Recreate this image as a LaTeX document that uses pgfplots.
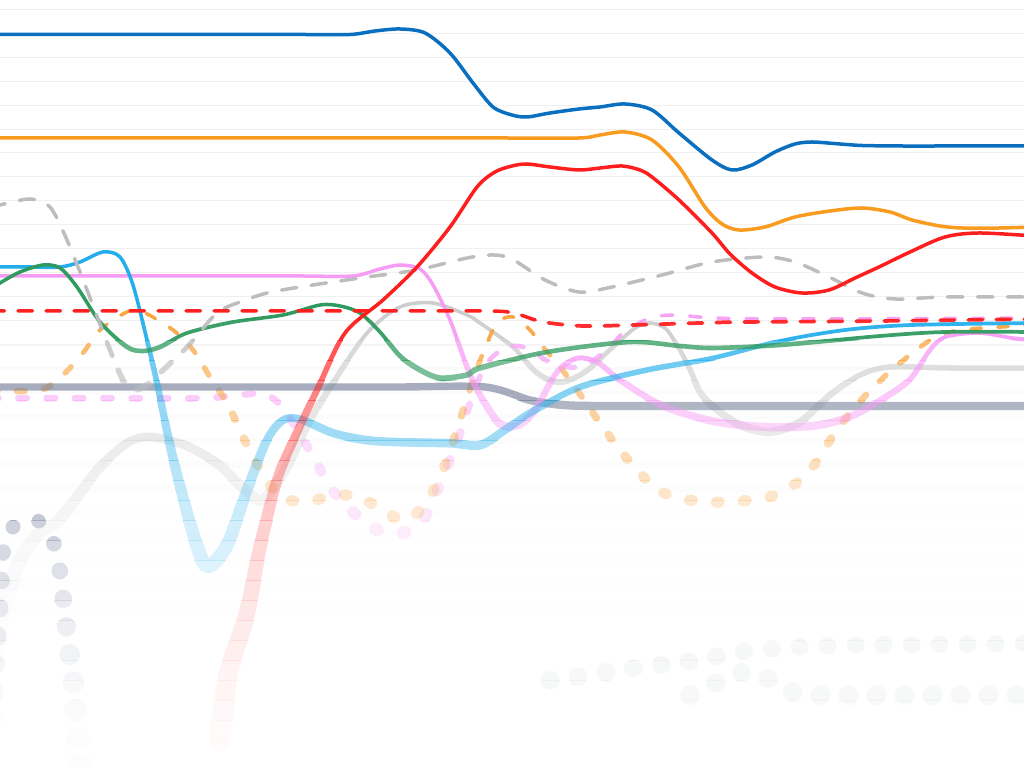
\documentclass[border=0pt]{standalone}
\usepackage{pgfplots}
\pgfplotsset{compat=1.18}
\definecolor{cBlue}{HTML}{0B6FC0}
\definecolor{cOrange}{HTML}{F99B1E}
\definecolor{cRed}{HTML}{FF1E1E}
\definecolor{cGrayD}{HTML}{BDBDBD}
\definecolor{cCyan}{HTML}{23AEEB}
\definecolor{cGreen}{HTML}{2F9A5F}
\definecolor{cPink}{HTML}{F79CF5}
\definecolor{cRedD}{HTML}{FF2020}
\definecolor{cOrangeD}{HTML}{F9A641}
\definecolor{cPinkD}{HTML}{F7A3F5}
\definecolor{cGrayS}{HTML}{CDCDCD}
\definecolor{cSlate}{HTML}{6E7894}
\definecolor{cSlateD}{HTML}{5E6A8C}
\definecolor{cFaint}{HTML}{6F8580}
\definecolor{cGridMinor}{HTML}{F0F0F0}
\definecolor{cGridMajor}{HTML}{E4E4E4}

% #1 = blur (px), #2 = extra fade factor
\newcommand\setblur[2]{%
 \pgfmathsetlengthmacro\wA{(3.5+#1)*0.28453pt}%
 \pgfmathsetmacro\oA{3.5/(3.5+#1)*#2}%
 \pgfmathsetmacro\oGS{3.5/(3.5+#1)*#2*#2}%
 \pgfmathsetlengthmacro\wS{(4.5+#1)*0.28453pt}%
 \pgfmathsetmacro\oS{4.5/(4.5+#1)*#2}%
 \pgfmathsetlengthmacro\wD{(5.5+#1)*0.28453pt}%
 \pgfmathsetmacro\oD{min(1,1.3*5.5/(5.5+#1))*#2^1.5}%
 \pgfmathsetlengthmacro\wF{(3+#1)*0.28453pt}%
 \pgfmathsetmacro\oF{0.35*3/(3+#1)}%
 \pgfmathsetlengthmacro\wG{(1+#1)*0.28453pt}%
 \pgfmathsetmacro\oG{1/(1+#1)*#2}%
 \pgfmathsetlengthmacro\gOn{max(15.5-#1,0.3)*0.28453pt}%
 \pgfmathsetlengthmacro\gOff{(30-max(15.5-#1,0.3))*0.28453pt}%
 \pgfmathsetlengthmacro\rOn{max(14.5-#1,0.3)*0.28453pt}%
 \pgfmathsetlengthmacro\rOff{(28-max(14.5-#1,0.3))*0.28453pt}%
 \pgfmathsetlengthmacro\oOn{max(10.5-#1,0.3)*0.28453pt}%
 \pgfmathsetlengthmacro\oOff{(27-max(10.5-#1,0.3))*0.28453pt}%
 \pgfmathsetlengthmacro\pOn{max(11.5-#1,0.3)*0.28453pt}%
 \pgfmathsetlengthmacro\pOff{(28.3-max(11.5-#1,0.3))*0.28453pt}%
 \pgfmathsetlengthmacro\dOn{0.5*0.28453pt}%
 \pgfmathsetlengthmacro\dOff{27.5*0.28453pt}%
}

\pgfplotsset{
 base/.style={
  scale only axis, width=10.24cm, height=7.68cm,
  xmin=0, xmax=1024, ymin=0, ymax=768, y dir=reverse,
  axis line style={draw=none}, xtick=\empty,
  ytick={9.3,33.25,...,657}, yticklabels={},
  major tick length=0pt, ymajorgrids,
  major grid style={color=cGridMinor, line width=\wG, opacity=\oG},
  extra y ticks={105.1,224.85,344.6,464.35,584.1}, extra y tick labels={},
  extra y tick style={grid style={color=cGridMajor, line width=\wG, opacity=\oG}},
  every axis plot/.append style={smooth, tension=0.5, line cap=round, line join=round, no markers},
 }
}

\newcommand\allplots{%
% faint bottom dotted
\addplot[color=cFaint, line width=\wF, draw opacity=\oF, dash pattern=on \dOn off \dOff] coordinates {
(550,680)(590,675)(617,670)(645,667)(673,663)(700,660)(730,653)(757,650)(793,647)(850,645)(950,644)(1034,643)};
\addplot[color=cFaint, line width=\wF, draw opacity=\oF, dash pattern=on \dOn off \dOff] coordinates {
(690,695)(717,682)(743,672)(773,680)(793,692)(823,695)(873,695)(950,695)(1034,695)};
% slate dotted
\addplot[color=cSlateD, line width=\wD, draw opacity=\oD, dash pattern=on \dOn off \dOff] coordinates {
(-10,720)(0,600)(5,540)(20,522)(37,520)(50,533)(58,560)(63,597)(68,640)(74,690)(80,768)};
% light gray solid
\addplot[color=cGrayS, line width=\wA, draw opacity=\oGS] coordinates {
(-15,700)(0,620)(20,560)(42,530)(60,519)(100,467)(127,443)(143,437)(160,438)(187,446)(217,463)(240,485)(262,500)(285,470)(310,420)(333,383)(367,333)(400,307)(433,303)(467,315)(480,323)(513,347)(537,373)(560,382)(585,372)(613,347)(635,328)(650,323)(667,330)(687,363)(700,392)(715,408)(740,425)(770,432)(800,422)(830,395)(860,375)(890,367)(950,368)(1034,368)};
% pink dashed
\addplot[color=cPinkD, line width=\wA, draw opacity=\oA, dash pattern=on \pOn off \pOff] coordinates {
(-10,398)(100,398)(200,398)(240,395)(265,394)(283,408)(310,451)(333,491)(367,524)(393,534)(420,524)(440,484)(460,434)(473,394)(487,363)(507,347)(527,348)(550,362)(580,367)(607,350)(623,333)(650,318)(677,315)(713,318)(800,319)(1034,318)};
% orange dashed
\addplot[color=cOrangeD, line width=\wA, draw opacity=\oA, dash pattern=on \oOn off \oOff] coordinates {
(-10,392)(0,391)(40,390)(60,378)(83,353)(100,330)(127,312)(143,312)(173,330)(193,350)(210,377)(227,403)(240,430)(253,457)(267,480)(280,497)(307,502)(333,495)(360,497)(385,512)(405,520)(425,505)(443,470)(460,420)(473,380)(483,353)(497,323)(513,317)(530,330)(543,347)(560,367)(577,390)(600,423)(620,450)(640,473)(659,491)(690,500)(712,502)(740,501)(769,497)(795,484)(815,464)(832,437)(849,414)(865,396)(895,367)(935,337)(962,330)(1000,327)(1034,325)};
% slate
\addplot[color=cSlate, line width=\wS, draw opacity=\oS] coordinates {
(-10,387)(100,387)(200,387)(300,387)(400,387)(485,387)(530,400)(563,405)(600,406)(700,406)(850,406)(1034,406)};
% pink solid
\addplot[color=cPink, line width=\wA, draw opacity=\oA] coordinates {
(-10,276)(100,276)(200,276)(300,276)(353,276)(380,269)(400,265)(420,269)(433,285)(450,320)(467,367)(480,395)(500,424)(518,425)(535,410)(557,372)(577,358)(597,362)(620,380)(663,406)(713,421)(763,427)(812,426)(840,420)(862,411)(895,391)(912,377)(930,350)(945,337)(979,333)(1012,338)(1034,340)};
% cyan
\addplot[color=cCyan, line width=\wA, draw opacity=\oA] coordinates {
(-10,267)(30,267)(60,267)(80,262)(103,252)(120,257)(133,285)(147,340)(157,383)(173,458)(193,533)(207,566)(227,545)(247,490)(267,440)(283,420)(300,419)(333,433)(367,440)(400,442)(450,443)(480,445)(505,430)(530,413)(580,387)(647,370)(713,358)(780,341)(845,330)(912,325)(1034,323)};
% green
\addplot[color=cGreen, line width=\wA, draw opacity=\oA] coordinates {
(-10,290)(0,283)(20,272)(43,265)(60,268)(77,287)(100,322)(127,347)(143,351)(160,347)(187,333)(233,322)(283,315)(320,305)(340,306)(360,313)(380,332)(400,356)(420,370)(440,378)(467,375)(480,368)(547,352)(630,342)(680,346)(713,348)(780,345)(880,336)(945,332)(1034,332)};
% gray dashed
\addplot[color=cGrayD, line width=\wA, draw opacity=\oA, dash pattern=on \gOn off \gOff] coordinates {
(-10,207)(0,205)(30,199)(50,207)(67,240)(87,290)(110,350)(123,380)(133,390)(147,385)(160,373)(187,347)(217,313)(240,302)(267,293)(300,287)(333,282)(367,277)(417,270)(467,258)(493,255)(512,259)(545,280)(579,292)(612,287)(662,275)(712,262)(765,257)(795,262)(829,277)(862,293)(895,299)(945,297)(1034,297)};
% red dashed
\addplot[color=cRedD, line width=\wA, draw opacity=\oA, dash pattern=on \rOn off \rOff] coordinates {
(-10,311)(100,311)(200,311)(300,311)(400,311)(493,311)(517,314)(543,322)(583,326)(633,325)(700,323)(745,322)(879,321)(1034,319)};
% red solid
\addplot[color=cRed, line width=\wA, draw opacity=\oA] coordinates {
(220,740)(227,680)(233,657)(247,613)(260,547)(277,480)(293,441)(317,390)(345,333)(383,300)(417,267)(450,227)(477,187)(495,172)(512,166)(527,164)(550,167)(579,170)(600,168)(622,166)(640,170)(652,177)(679,200)(712,233)(730,254)(752,273)(775,287)(802,293)(829,290)(855,278)(879,267)(910,252)(945,237)(979,233)(1034,236)};
% orange solid
\addplot[color=cOrange, line width=\wA, draw opacity=\oA] coordinates {
(-10,138)(100,138)(200,138)(300,138)(400,138)(500,138)(579,138)(600,135)(625,132)(652,140)(679,167)(705,207)(722,224)(739,230)(765,227)(795,217)(830,211)(862,208)(890,212)(912,220)(940,226)(962,228)(1000,228)(1034,227)};
% blue
\addplot[color=cBlue, line width=\wA, draw opacity=\oA] coordinates {
(-10,34.5)(100,34.5)(200,34.5)(300,34.5)(350,34.5)(375,31)(400,29)(425,33)(450,53)(473,83)(493,107)(512,115)(527,117)(550,113)(579,109)(600,107)(625,104)(652,110)(679,133)(712,160)(732,170)(752,165)(775,152)(795,144)(812,142)(840,144)(862,145.5)(900,146)(950,146)(1034,146)};
}

% #1 top px, #2 bottom px, #3 blur, #4 fade
\newcommand\band[4]{%
 \setblur{#3}{#4}%
 \begin{scope}
 \clip (0cm,{(768-(#2))*0.01cm}) rectangle (10.24cm,{(768-(#1))*0.01cm});
 \begin{axis}[base]
 \allplots
 \end{axis}
 \end{scope}}

\begin{document}
\begin{tikzpicture}
\band{-5}{320}{0}{1}
\foreach \t in {320,340,...,760}{%
 \pgfmathsetmacro\tb{\t+20}%
 \pgfmathsetmacro\bb{max(0,0.045*(\t+10-325))}%
 \pgfmathsetmacro\ff{max(0.12,min(1,1-(\t+10-440)*0.003))}%
 \band{\t}{\tb}{\bb}{\ff}%
}
\pgfresetboundingbox
\path[use as bounding box] (0,0) rectangle (10.24cm,7.68cm);
\end{tikzpicture}
\end{document}
